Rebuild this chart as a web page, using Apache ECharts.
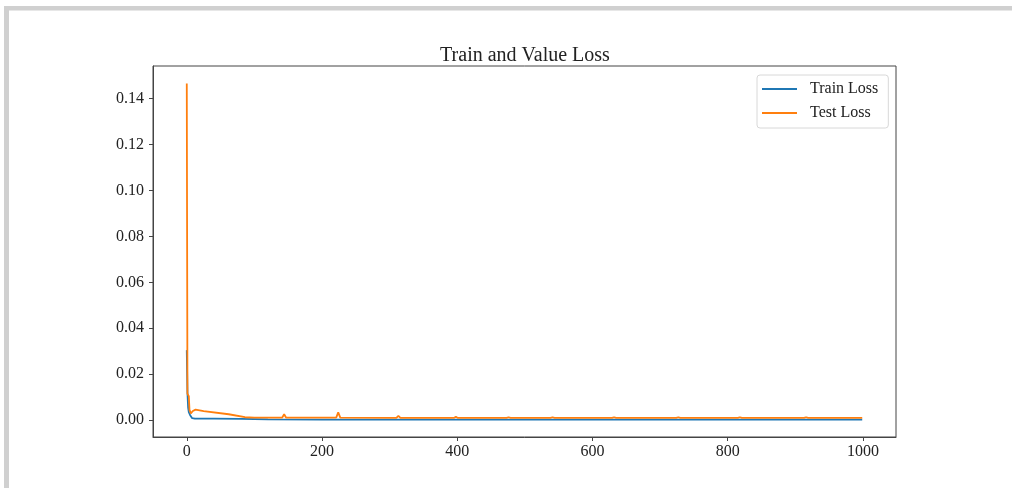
<!DOCTYPE html>
<html>
<head>
<meta charset="utf-8">
<script src="https://cdn.jsdelivr.net/npm/echarts@6/dist/echarts.min.js"></script>
<style>
html,body{margin:0;padding:0;background:#fff;}
#chart{width:1012px;height:488px;}
</style>
</head>
<body>
<div id="chart"></div>
<script>
// ---- data ----
const titleText = "Train and Value Loss";
const seriesNames = ["Train Loss", "Test Loss"];
const xTicks = [0, 200, 400, 600, 800, 1000];
const yTicks = [0, 0.02, 0.04, 0.06, 0.08, 0.10, 0.12, 0.14];

const trainEpochs = [0, 1, 2, 3, 5, 8, 12, 40, 80, 120, 200, 400, 600, 800, 999];
const trainLoss   = [0.0305, 0.0120, 0.0055, 0.0035, 0.0022, 0.0009, 0.0007, 0.0007, 0.0006, 0.0004, 0.0003, 0.0003, 0.0003, 0.0003, 0.0003];

const testEpochs = [0, 1, 2, 3, 4, 6, 9, 13, 25, 62, 86, 100,
  141, 144, 147, 221, 224, 227, 310, 313, 316, 395, 398, 401, 473, 476, 479,
  538, 541, 544, 629, 632, 635, 724, 727, 730, 815, 818, 821, 913, 916, 919, 999];
const testLoss = [0.1465, 0.0115, 0.0110, 0.0105, 0.0045, 0.0030, 0.0040, 0.0046, 0.0040, 0.0026, 0.0013, 0.0011,
  0.0011, 0.0026, 0.0011, 0.0011, 0.0034, 0.0011, 0.0010, 0.0019, 0.0010, 0.0010, 0.0015, 0.0010, 0.0010, 0.0013, 0.0010,
  0.0010, 0.0013, 0.0010, 0.0010, 0.0013, 0.0010, 0.0010, 0.0013, 0.0010, 0.0010, 0.0013, 0.0010, 0.0010, 0.0013, 0.0010, 0.0010];

const xMin = -49.95, xMax = 1048.95;
const yMin = -0.0073, yMax = 0.1541;

function pairs(xs, ys){ return xs.map((x,i)=>[x, ys[i]]); }

const serif = "'Liberation Serif','DejaVu Serif',serif";
const chart = echarts.init(document.getElementById('chart'), null, {renderer:'canvas'});
chart.setOption({
  animation:false,
  backgroundColor:'#fff',
  title:{
    text:titleText, left:520, top:41, textAlign:'center',
    textStyle:{fontFamily:serif, fontSize:20, fontWeight:'normal', color:'#222'}
  },
  legend:{
    orient:'vertical', left:757, top:75,
    data:seriesNames,
    icon:'rect',
    itemWidth:35, itemHeight:2, itemGap:8,
    padding:[6,10,7,5],
    backgroundColor:'#fff', borderColor:'#d8d8d8', borderWidth:1, borderRadius:3,
    textStyle:{fontFamily:serif, fontSize:16, color:'#222', lineHeight:16, padding:[0,0,0,8]}
  },
  grid:{left:153, right:116, top:66, bottom:51, show:true, borderColor:'#444', borderWidth:1, backgroundColor:'transparent', containLabel:false},
  xAxis:{
    type:'value', min:xMin, max:xMax,
    axisLine:{show:true, onZero:false, lineStyle:{color:'#444', width:1}},
    axisTick:{show:true, inside:false, length:4, customValues:xTicks, lineStyle:{color:'#444'}},
    axisLabel:{customValues:xTicks, margin:7, fontFamily:serif, fontSize:16, color:'#222',
      formatter:(v)=>String(Math.round(v))},
    splitLine:{show:false}
  },
  yAxis:{
    type:'value', min:yMin, max:yMax,
    axisLine:{show:true, onZero:false, lineStyle:{color:'#444', width:1}},
    axisTick:{show:true, inside:false, length:4, customValues:yTicks, lineStyle:{color:'#444'}},
    axisLabel:{customValues:yTicks, margin:9, fontFamily:serif, fontSize:16, color:'#222',
      formatter:(v)=>v.toFixed(2)},
    splitLine:{show:false}
  },
  graphic:[
    {type:'rect', shape:{x:4, y:6, width:1008, height:4.5}, style:{fill:'#d0d0d0'}, silent:true},
    {type:'rect', shape:{x:4, y:6, width:5, height:482}, style:{fill:'#d0d0d0'}, silent:true}
  ],
  series:[
    {name:seriesNames[0], type:'line', data:pairs(trainEpochs, trainLoss), symbol:'none',
      lineStyle:{color:'#1f77b4', width:1.8}, itemStyle:{color:'#1f77b4'}},
    {name:seriesNames[1], type:'line', data:pairs(testEpochs, testLoss), symbol:'none',
      lineStyle:{color:'#ff7f0e', width:1.8}, itemStyle:{color:'#ff7f0e'}}
  ]
});
</script>
</body>
</html>
